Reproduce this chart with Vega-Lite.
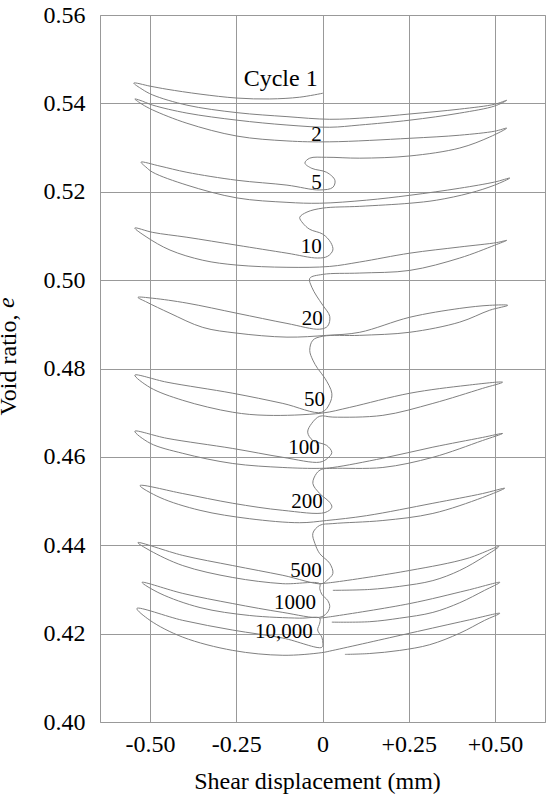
{
"$schema": "https://vega.github.io/schema/vega-lite/v6.json",
"width": 445, "height": 707,
"autosize": {"type": "none"},
"padding": {"left": 100, "top": 15, "right": 7, "bottom": 75},
"background": "white",
"config": {"view": {"stroke": "#999999", "strokeWidth": 1}, "font": "'Liberation Serif', 'Times New Roman', Times, serif"},
"datasets": {
"curves": [
{"s":1,"i":1,"x":0.001,"y":0.5423},{"s":1,"i":2,"x":-0.066,"y":0.5414},{"s":1,"i":3,"x":-0.153,"y":0.5410},{"s":1,"i":4,"x":-0.248,"y":0.5412},{"s":1,"i":5,"x":-0.355,"y":0.5421},{"s":1,"i":6,"x":-0.451,"y":0.5432},{"s":1,"i":7,"x":-0.500,"y":0.5439},{"s":1,"i":8,"x":-0.547,"y":0.5446},
{"s":1,"i":9,"x":-0.523,"y":0.5432},{"s":1,"i":10,"x":-0.492,"y":0.5419},{"s":1,"i":11,"x":-0.393,"y":0.5396},{"s":1,"i":12,"x":-0.248,"y":0.5379},{"s":1,"i":13,"x":-0.103,"y":0.5370},{"s":1,"i":14,"x":0.021,"y":0.5364},{"s":1,"i":15,"x":0.137,"y":0.5368},{"s":1,"i":16,"x":0.253,"y":0.5376},{"s":1,"i":17,"x":0.398,"y":0.5387},{"s":1,"i":18,"x":0.499,"y":0.5398},{"s":1,"i":19,"x":0.534,"y":0.5407},
{"s":1,"i":20,"x":0.499,"y":0.5394},{"s":1,"i":21,"x":0.398,"y":0.5378},{"s":1,"i":22,"x":0.253,"y":0.5362},{"s":1,"i":23,"x":0.108,"y":0.5351},{"s":1,"i":24,"x":0.021,"y":0.5346},{"s":1,"i":25,"x":-0.103,"y":0.5351},{"s":1,"i":26,"x":-0.248,"y":0.5362},{"s":1,"i":27,"x":-0.393,"y":0.5378},{"s":1,"i":28,"x":-0.492,"y":0.5396},{"s":1,"i":29,"x":-0.529,"y":0.5407},{"s":1,"i":30,"x":-0.544,"y":0.5410},
{"s":1,"i":31,"x":-0.523,"y":0.5398},{"s":1,"i":32,"x":-0.492,"y":0.5385},{"s":1,"i":33,"x":-0.393,"y":0.5355},{"s":1,"i":34,"x":-0.248,"y":0.5326},{"s":1,"i":35,"x":-0.103,"y":0.5315},{"s":1,"i":36,"x":0.021,"y":0.5313},{"s":1,"i":37,"x":0.253,"y":0.5321},{"s":1,"i":38,"x":0.398,"y":0.5328},{"s":1,"i":39,"x":0.499,"y":0.5337},{"s":1,"i":40,"x":0.534,"y":0.5344},
{"s":1,"i":41,"x":0.485,"y":0.5324},{"s":1,"i":42,"x":0.398,"y":0.5299},{"s":1,"i":43,"x":0.253,"y":0.5281},{"s":1,"i":44,"x":0.108,"y":0.5276},{"s":1,"i":45,"x":0.012,"y":0.5278},{"s":1,"i":46,"x":-0.037,"y":0.5276},{"s":1,"i":47,"x":-0.051,"y":0.5265},{"s":1,"i":48,"x":-0.031,"y":0.5253},{"s":1,"i":49,"x":0.012,"y":0.5244},{"s":1,"i":50,"x":0.036,"y":0.5226},{"s":1,"i":51,"x":0.030,"y":0.5210},{"s":1,"i":52,"x":-0.008,"y":0.5204},
{"s":1,"i":53,"x":-0.103,"y":0.5215},{"s":1,"i":54,"x":-0.248,"y":0.5226},{"s":1,"i":55,"x":-0.393,"y":0.5244},{"s":1,"i":56,"x":-0.471,"y":0.5258},{"s":1,"i":57,"x":-0.526,"y":0.5267},
{"s":1,"i":58,"x":-0.512,"y":0.5256},{"s":1,"i":59,"x":-0.492,"y":0.5244},{"s":1,"i":60,"x":-0.393,"y":0.5215},{"s":1,"i":61,"x":-0.248,"y":0.5186},{"s":1,"i":62,"x":-0.103,"y":0.5176},{"s":1,"i":63,"x":-0.008,"y":0.5174},
{"s":1,"i":64,"x":0.128,"y":0.5181},{"s":1,"i":65,"x":0.253,"y":0.5192},{"s":1,"i":66,"x":0.398,"y":0.5208},{"s":1,"i":67,"x":0.499,"y":0.5222},{"s":1,"i":68,"x":0.543,"y":0.5231},
{"s":1,"i":69,"x":0.499,"y":0.5215},{"s":1,"i":70,"x":0.427,"y":0.5197},{"s":1,"i":71,"x":0.331,"y":0.5181},{"s":1,"i":72,"x":0.253,"y":0.5174},{"s":1,"i":73,"x":0.108,"y":0.5167},{"s":1,"i":74,"x":0.001,"y":0.5163},{"s":1,"i":75,"x":-0.045,"y":0.5154},{"s":1,"i":76,"x":-0.066,"y":0.5142},{"s":1,"i":77,"x":-0.057,"y":0.5129},{"s":1,"i":78,"x":-0.037,"y":0.5115},{"s":1,"i":79,"x":0.001,"y":0.5104},{"s":1,"i":80,"x":0.024,"y":0.5085},{"s":1,"i":81,"x":0.030,"y":0.5068},{"s":1,"i":82,"x":0.015,"y":0.5054},{"s":1,"i":83,"x":-0.014,"y":0.5050},
{"s":1,"i":84,"x":-0.103,"y":0.5061},{"s":1,"i":85,"x":-0.248,"y":0.5079},{"s":1,"i":86,"x":-0.393,"y":0.5097},{"s":1,"i":87,"x":-0.492,"y":0.5108},{"s":1,"i":88,"x":-0.544,"y":0.5118},
{"s":1,"i":89,"x":-0.509,"y":0.5097},{"s":1,"i":90,"x":-0.442,"y":0.5068},{"s":1,"i":91,"x":-0.347,"y":0.5045},{"s":1,"i":92,"x":-0.248,"y":0.5034},{"s":1,"i":93,"x":-0.103,"y":0.5029},{"s":1,"i":94,"x":0.021,"y":0.5031},
{"s":1,"i":95,"x":0.108,"y":0.5041},{"s":1,"i":96,"x":0.253,"y":0.5061},{"s":1,"i":97,"x":0.398,"y":0.5075},{"s":1,"i":98,"x":0.505,"y":0.5085},{"s":1,"i":99,"x":0.534,"y":0.5090},
{"s":1,"i":100,"x":0.499,"y":0.5079},{"s":1,"i":101,"x":0.398,"y":0.5050},{"s":1,"i":102,"x":0.253,"y":0.5022},{"s":1,"i":103,"x":0.108,"y":0.5016},{"s":1,"i":104,"x":0.001,"y":0.5013},{"s":1,"i":105,"x":-0.037,"y":0.5004},{"s":1,"i":106,"x":-0.031,"y":0.4984},{"s":1,"i":107,"x":-0.017,"y":0.4964},{"s":1,"i":108,"x":0.001,"y":0.4943},{"s":1,"i":109,"x":0.021,"y":0.4918},{"s":1,"i":110,"x":0.015,"y":0.4896},{"s":1,"i":111,"x":-0.008,"y":0.4889},
{"s":1,"i":112,"x":-0.103,"y":0.4902},{"s":1,"i":113,"x":-0.248,"y":0.4925},{"s":1,"i":114,"x":-0.393,"y":0.4948},{"s":1,"i":115,"x":-0.492,"y":0.4959},{"s":1,"i":116,"x":-0.535,"y":0.4961},
{"s":1,"i":117,"x":-0.509,"y":0.4950},{"s":1,"i":118,"x":-0.442,"y":0.4925},{"s":1,"i":119,"x":-0.347,"y":0.4893},{"s":1,"i":120,"x":-0.248,"y":0.4880},{"s":1,"i":121,"x":-0.103,"y":0.4871},{"s":1,"i":122,"x":0.012,"y":0.4875},
{"s":1,"i":123,"x":0.108,"y":0.4882},{"s":1,"i":124,"x":0.253,"y":0.4916},{"s":1,"i":125,"x":0.398,"y":0.4936},{"s":1,"i":126,"x":0.485,"y":0.4943},{"s":1,"i":127,"x":0.537,"y":0.4943},
{"s":1,"i":128,"x":0.485,"y":0.4932},{"s":1,"i":129,"x":0.398,"y":0.4905},{"s":1,"i":130,"x":0.253,"y":0.4882},{"s":1,"i":131,"x":0.108,"y":0.4875},{"s":1,"i":132,"x":0.001,"y":0.4873},{"s":1,"i":133,"x":-0.028,"y":0.4864},{"s":1,"i":134,"x":-0.037,"y":0.4841},{"s":1,"i":135,"x":-0.028,"y":0.4819},{"s":1,"i":136,"x":-0.014,"y":0.4800},{"s":1,"i":137,"x":0.007,"y":0.4778},{"s":1,"i":138,"x":0.027,"y":0.4744},{"s":1,"i":139,"x":0.021,"y":0.4721},{"s":1,"i":140,"x":-0.002,"y":0.4701},
{"s":1,"i":141,"x":-0.115,"y":0.4721},{"s":1,"i":142,"x":-0.260,"y":0.4744},{"s":1,"i":143,"x":-0.451,"y":0.4769},{"s":1,"i":144,"x":-0.544,"y":0.4785},
{"s":1,"i":145,"x":-0.500,"y":0.4757},{"s":1,"i":146,"x":-0.405,"y":0.4728},{"s":1,"i":147,"x":-0.260,"y":0.4701},{"s":1,"i":148,"x":-0.161,"y":0.4694},{"s":1,"i":149,"x":-0.002,"y":0.4699},
{"s":1,"i":150,"x":0.079,"y":0.4712},{"s":1,"i":151,"x":0.253,"y":0.4744},{"s":1,"i":152,"x":0.419,"y":0.4762},{"s":1,"i":153,"x":0.522,"y":0.4769},
{"s":1,"i":154,"x":0.464,"y":0.4755},{"s":1,"i":155,"x":0.320,"y":0.4721},{"s":1,"i":156,"x":0.175,"y":0.4694},{"s":1,"i":157,"x":0.030,"y":0.4690},{"s":1,"i":158,"x":-0.008,"y":0.4692},{"s":1,"i":159,"x":-0.031,"y":0.4676},{"s":1,"i":160,"x":-0.043,"y":0.4656},{"s":1,"i":161,"x":-0.028,"y":0.4637},{"s":1,"i":162,"x":0.012,"y":0.4626},{"s":1,"i":163,"x":0.027,"y":0.4610},{"s":1,"i":164,"x":0.015,"y":0.4597},{"s":1,"i":165,"x":-0.008,"y":0.4588},
{"s":1,"i":166,"x":-0.115,"y":0.4599},{"s":1,"i":167,"x":-0.260,"y":0.4619},{"s":1,"i":168,"x":-0.451,"y":0.4642},{"s":1,"i":169,"x":-0.544,"y":0.4658},
{"s":1,"i":170,"x":-0.500,"y":0.4631},{"s":1,"i":171,"x":-0.405,"y":0.4608},{"s":1,"i":172,"x":-0.260,"y":0.4585},{"s":1,"i":173,"x":-0.115,"y":0.4576},{"s":1,"i":174,"x":-0.008,"y":0.4574},
{"s":1,"i":175,"x":0.030,"y":0.4576},{"s":1,"i":176,"x":0.175,"y":0.4597},{"s":1,"i":177,"x":0.320,"y":0.4622},{"s":1,"i":178,"x":0.464,"y":0.4644},{"s":1,"i":179,"x":0.522,"y":0.4653},
{"s":1,"i":180,"x":0.464,"y":0.4637},{"s":1,"i":181,"x":0.320,"y":0.4599},{"s":1,"i":182,"x":0.175,"y":0.4576},{"s":1,"i":183,"x":0.030,"y":0.4574},{"s":1,"i":184,"x":-0.002,"y":0.4572},{"s":1,"i":185,"x":-0.017,"y":0.4563},{"s":1,"i":186,"x":-0.028,"y":0.4540},{"s":1,"i":187,"x":-0.008,"y":0.4517},{"s":1,"i":188,"x":0.021,"y":0.4497},{"s":1,"i":189,"x":0.027,"y":0.4486},{"s":1,"i":190,"x":0.007,"y":0.4474},
{"s":1,"i":191,"x":-0.115,"y":0.4479},{"s":1,"i":192,"x":-0.260,"y":0.4495},{"s":1,"i":193,"x":-0.405,"y":0.4517},{"s":1,"i":194,"x":-0.529,"y":0.4535},
{"s":1,"i":195,"x":-0.471,"y":0.4508},{"s":1,"i":196,"x":-0.355,"y":0.4479},{"s":1,"i":197,"x":-0.211,"y":0.4460},{"s":1,"i":198,"x":-0.066,"y":0.4451},{"s":1,"i":199,"x":0.012,"y":0.4456},
{"s":1,"i":200,"x":0.128,"y":0.4467},{"s":1,"i":201,"x":0.320,"y":0.4495},{"s":1,"i":202,"x":0.464,"y":0.4517},{"s":1,"i":203,"x":0.528,"y":0.4529},
{"s":1,"i":204,"x":0.464,"y":0.4508},{"s":1,"i":205,"x":0.320,"y":0.4472},{"s":1,"i":206,"x":0.175,"y":0.4456},{"s":1,"i":207,"x":0.030,"y":0.4449},{"s":1,"i":208,"x":-0.008,"y":0.4445},{"s":1,"i":209,"x":-0.028,"y":0.4427},{"s":1,"i":210,"x":-0.022,"y":0.4404},{"s":1,"i":211,"x":-0.008,"y":0.4381},{"s":1,"i":212,"x":0.021,"y":0.4359},{"s":1,"i":213,"x":0.030,"y":0.4336},{"s":1,"i":214,"x":0.012,"y":0.4320},{"s":1,"i":215,"x":-0.002,"y":0.4313},
{"s":1,"i":216,"x":-0.115,"y":0.4332},{"s":1,"i":217,"x":-0.260,"y":0.4354},{"s":1,"i":218,"x":-0.405,"y":0.4377},{"s":1,"i":219,"x":-0.535,"y":0.4406},
{"s":1,"i":220,"x":-0.500,"y":0.4388},{"s":1,"i":221,"x":-0.405,"y":0.4354},{"s":1,"i":222,"x":-0.260,"y":0.4327},{"s":1,"i":223,"x":-0.115,"y":0.4313},{"s":1,"i":224,"x":-0.008,"y":0.4313},
{"s":1,"i":225,"x":-0.008,"y":0.4302},{"s":1,"i":226,"x":-0.002,"y":0.4289},{"s":1,"i":227,"x":0.015,"y":0.4275},{"s":1,"i":228,"x":0.021,"y":0.4261},{"s":1,"i":229,"x":0.012,"y":0.4246},{"s":1,"i":230,"x":-0.008,"y":0.4237},
{"s":1,"i":231,"x":-0.115,"y":0.4248},{"s":1,"i":232,"x":-0.260,"y":0.4268},{"s":1,"i":233,"x":-0.405,"y":0.4291},{"s":1,"i":234,"x":-0.523,"y":0.4316},
{"s":1,"i":235,"x":-0.471,"y":0.4291},{"s":1,"i":236,"x":-0.355,"y":0.4259},{"s":1,"i":237,"x":-0.211,"y":0.4241},{"s":1,"i":238,"x":-0.066,"y":0.4235},{"s":1,"i":239,"x":-0.008,"y":0.4235},
{"s":1,"i":240,"x":-0.008,"y":0.4224},{"s":1,"i":241,"x":-0.014,"y":0.4208},{"s":1,"i":242,"x":-0.002,"y":0.4192},{"s":1,"i":243,"x":0.001,"y":0.4178},{"s":1,"i":244,"x":-0.002,"y":0.4169},
{"s":1,"i":245,"x":-0.115,"y":0.4190},{"s":1,"i":246,"x":-0.260,"y":0.4208},{"s":1,"i":247,"x":-0.405,"y":0.4230},{"s":1,"i":248,"x":-0.538,"y":0.4257},
{"s":1,"i":249,"x":-0.500,"y":0.4230},{"s":1,"i":250,"x":-0.405,"y":0.4192},{"s":1,"i":251,"x":-0.260,"y":0.4162},{"s":1,"i":252,"x":-0.115,"y":0.4151},{"s":1,"i":253,"x":-0.002,"y":0.4157},
{"s":1,"i":254,"x":0.030,"y":0.4162},{"s":1,"i":255,"x":0.253,"y":0.4201},{"s":1,"i":256,"x":0.419,"y":0.4230},{"s":1,"i":257,"x":0.514,"y":0.4246},
{"s":1,"i":258,"x":0.470,"y":0.4230},{"s":1,"i":259,"x":0.398,"y":0.4201},{"s":1,"i":260,"x":0.311,"y":0.4175},{"s":1,"i":261,"x":0.224,"y":0.4162},{"s":1,"i":262,"x":0.137,"y":0.4155},{"s":1,"i":263,"x":0.065,"y":0.4153},
{"s":2,"i":1,"x":-0.008,"y":0.4313},{"s":2,"i":2,"x":0.030,"y":0.4316},{"s":2,"i":3,"x":0.253,"y":0.4343},{"s":2,"i":4,"x":0.419,"y":0.4370},{"s":2,"i":5,"x":0.511,"y":0.4397},{"s":2,"i":6,"x":0.470,"y":0.4375},{"s":2,"i":7,"x":0.398,"y":0.4343},{"s":2,"i":8,"x":0.320,"y":0.4320},{"s":2,"i":9,"x":0.224,"y":0.4307},{"s":2,"i":10,"x":0.137,"y":0.4300},{"s":2,"i":11,"x":0.030,"y":0.4298},
{"s":3,"i":1,"x":-0.008,"y":0.4235},{"s":3,"i":2,"x":0.030,"y":0.4239},{"s":3,"i":3,"x":0.253,"y":0.4268},{"s":3,"i":4,"x":0.419,"y":0.4298},{"s":3,"i":5,"x":0.514,"y":0.4316},{"s":3,"i":6,"x":0.470,"y":0.4298},{"s":3,"i":7,"x":0.398,"y":0.4270},{"s":3,"i":8,"x":0.320,"y":0.4248},{"s":3,"i":9,"x":0.224,"y":0.4235},{"s":3,"i":10,"x":0.137,"y":0.4227},{"s":3,"i":11,"x":0.027,"y":0.4226}
],
"cyclelabel": [{"t":"Cycle 1","x":-0.014,"y":0.5455}],
"ylab": [{"t":"e","x":-0.893,"y":0.4937}],
"labels": [
{"t":"2","x":-0.002,"y":0.5328},{"t":"5","x":-0.002,"y":0.5219},{"t":"10","x":-0.002,"y":0.5075},{"t":"20","x":0.001,"y":0.4912},{"t":"50","x":0.007,"y":0.4728},{"t":"100","x":-0.008,"y":0.4619},{"t":"200","x":0.001,"y":0.4497},{"t":"500","x":-0.002,"y":0.4341},{"t":"1000","x":-0.019,"y":0.4270},{"t":"10,000","x":-0.028,"y":0.4203}
]
},
"layer": [
{"data": {"name": "curves"},
 "mark": {"type": "line", "interpolate": "catmull-rom", "color": "#808080", "strokeWidth": 1},
 "encoding": {
  "x": {"field": "x", "type": "quantitative",
   "scale": {"domain": [-0.645, 0.645], "nice": false, "zero": false},
   "axis": {"values": [-0.5, -0.25, 0, 0.25, 0.5],
    "labelExpr": "datum.value > 0 ? '+' + format(datum.value, '.2f') : (datum.value < 0 ? '-' + format(-datum.value, '.2f') : '0')",
    "grid": true, "gridColor": "#999999", "gridOpacity": 1, "gridWidth": 1, "ticks": false, "domain": false,
    "labelFont": "'Liberation Serif', 'Times New Roman', Times, serif", "labelFontSize": 24, "labelColor": "#000000", "labelPadding": 10,
    "title": "Shear displacement (mm)", "titleFont": "'Liberation Serif', 'Times New Roman', Times, serif", "titleFontSize": 24, "titleFontWeight": "normal", "titleColor": "#000000",
    "titleX": 217, "titleY": 66, "titleBaseline": "alphabetic", "titleAlign": "center"}},
  "y": {"field": "y", "type": "quantitative",
   "scale": {"domain": [0.40, 0.56], "nice": false, "zero": false},
   "axis": {"values": [0.40, 0.42, 0.44, 0.46, 0.48, 0.50, 0.52, 0.54, 0.56], "format": ".2f",
    "grid": true, "gridColor": "#999999", "gridOpacity": 1, "gridWidth": 1, "ticks": false, "domain": false,
    "labelFont": "'Liberation Serif', 'Times New Roman', Times, serif", "labelFontSize": 24, "labelColor": "#000000", "labelPadding": 15,
    "title": "Void ratio,", "titleFont": "'Liberation Serif', 'Times New Roman', Times, serif", "titleFontSize": 24, "titleFontWeight": "normal", "titleColor": "#000000",
    "titleAngle": -90, "titleX": -85, "titleY": 299, "titleBaseline": "alphabetic", "titleAlign": "right"}},
  "detail": {"field": "s", "type": "nominal"},
  "order": {"field": "i", "type": "quantitative"}
 }},
{"data": {"name": "ylab"},
 "mark": {"type": "text", "align": "left", "baseline": "alphabetic", "angle": 270, "font": "'Liberation Serif', 'Times New Roman', Times, serif", "fontStyle": "italic", "fontSize": 24, "color": "#000000", "clip": false},
 "encoding": {"x": {"field": "x", "type": "quantitative"}, "y": {"field": "y", "type": "quantitative"}, "text": {"field": "t"}}},
{"data": {"name": "cyclelabel"},
 "mark": {"type": "text", "align": "right", "baseline": "middle", "font": "'Liberation Serif', 'Times New Roman', Times, serif", "fontSize": 24, "color": "#000000"},
 "encoding": {"x": {"field": "x", "type": "quantitative"}, "y": {"field": "y", "type": "quantitative"}, "text": {"field": "t"}}},
{"data": {"name": "labels"},
 "mark": {"type": "text", "align": "right", "baseline": "middle", "font": "'Liberation Serif', 'Times New Roman', Times, serif", "fontSize": 21, "color": "#000000"},
 "encoding": {"x": {"field": "x", "type": "quantitative"}, "y": {"field": "y", "type": "quantitative"}, "text": {"field": "t"}}}
]
}
